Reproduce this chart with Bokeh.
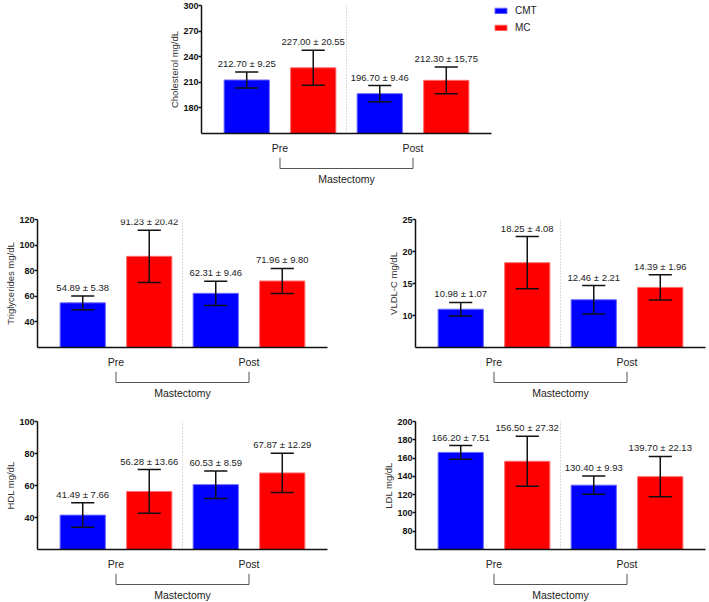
from bokeh.plotting import figure
from bokeh.models import (ColumnDataSource, FactorRange, Range1d, FixedTicker,
                          Span, Legend, LegendItem, Spacer)
from bokeh.transform import dodge
from bokeh.layouts import column, row
from bokeh.embed import file_html
from bokeh.resources import INLINE
from bokeh.core.properties import value

# ---------------- data ----------------
groups = ["Pre", "Post"]
series = ["CMT", "MC"]
group_title = "Mastectomy"

chol_cmt = [212.70, 196.70]
chol_cmt_sd = [9.25, 9.46]
chol_mc = [227.00, 212.30]
chol_mc_sd = [20.55, 15.75]
chol_cmt_text = ["212.70 ± 9.25", "196.70 ± 9.46"]
chol_mc_text = ["227.00 ± 20.55", "212.30 ± 15,75"]
chol_ticks = [180, 210, 240, 270, 300]
chol_lim = [150, 300]

trig_cmt = [54.89, 62.31]
trig_cmt_sd = [5.38, 9.46]
trig_mc = [91.23, 71.96]
trig_mc_sd = [20.42, 9.80]
trig_cmt_text = ["54.89 ± 5.38", "62.31 ± 9.46"]
trig_mc_text = ["91.23 ± 20.42", "71.96 ± 9.80"]
trig_ticks = [40, 60, 80, 100, 120]
trig_lim = [20, 120]

vldl_cmt = [10.98, 12.46]
vldl_cmt_sd = [1.07, 2.21]
vldl_mc = [18.25, 14.39]
vldl_mc_sd = [4.08, 1.96]
vldl_cmt_text = ["10.98 ± 1.07", "12.46 ± 2.21"]
vldl_mc_text = ["18.25 ± 4.08", "14.39 ± 1.96"]
vldl_ticks = [10, 15, 20, 25]
vldl_lim = [5, 25]

hdl_cmt = [41.49, 60.53]
hdl_cmt_sd = [7.66, 8.59]
hdl_mc = [56.28, 67.87]
hdl_mc_sd = [13.66, 12.29]
hdl_cmt_text = ["41.49 ± 7.66", "60.53 ± 8.59"]
hdl_mc_text = ["56.28 ± 13.66", "67.87 ± 12.29"]
hdl_ticks = [40, 60, 80, 100]
hdl_lim = [20, 100]

ldl_cmt = [166.20, 130.40]
ldl_cmt_sd = [7.51, 9.93]
ldl_mc = [156.50, 139.70]
ldl_mc_sd = [27.32, 22.13]
ldl_cmt_text = ["166.20 ± 7.51", "130.40 ± 9.93"]
ldl_mc_text = ["156.50 ± 27.32", "139.70 ± 22.13"]
ldl_ticks = [80, 100, 120, 140, 160, 180, 200]
ldl_lim = [60, 200]

# ---------------- style ----------------
FONT = "Liberation Sans"
COLORS = ["#0000FF", "#FF0000"]
EDGES = ["#6a6aff", "#ff7070"]
OFFSETS = [-0.25, 0.25]
FRAME_W = 290
FRAME_H = 128
LEFT = 37
BOTTOM = 24
BRACKET_H = 28


def make_panel(ylabel, ylim, ticks, cmt, cmt_sd, mc, mc_sd, cmt_text, mc_text,
               top_border, right_border):
    width = LEFT + FRAME_W + right_border
    x_range = FactorRange(factors=groups, range_padding=0.09,
                          range_padding_units="absolute")
    p = figure(x_range=x_range, y_range=Range1d(ylim[0], ylim[1]),
               width=width, height=top_border + FRAME_H + BOTTOM,
               output_backend="svg", toolbar_location=None,
               min_border_left=LEFT, min_border_right=right_border,
               min_border_top=top_border, min_border_bottom=BOTTOM)
    p.xgrid.visible = False
    p.ygrid.visible = False
    p.outline_line_color = None

    src = ColumnDataSource(dict(
        x=groups,
        v0=cmt, lo0=[m - s for m, s in zip(cmt, cmt_sd)],
        hi0=[m + s for m, s in zip(cmt, cmt_sd)], t0=cmt_text,
        v1=mc, lo1=[m - s for m, s in zip(mc, mc_sd)],
        hi1=[m + s for m, s in zip(mc, mc_sd)], t1=mc_text,
    ))

    p.add_layout(Span(location=1.0, dimension="height", line_color="#b8b8b8",
                      line_width=1, line_dash="1 2"))

    for i in range(2):
        off = OFFSETS[i]
        p.vbar(x=dodge("x", off, range=x_range), top="v%d" % i,
               bottom=ylim[0], width=0.34, fill_color=COLORS[i],
               line_color=EDGES[i], line_width=1, source=src)
    for i in range(2):
        off = OFFSETS[i]
        p.segment(x0=dodge("x", off, range=x_range), y0="lo%d" % i,
                  x1=dodge("x", off, range=x_range), y1="hi%d" % i,
                  line_color="#111111", line_width=1.5, source=src)
        for key in ("lo%d" % i, "hi%d" % i):
            p.segment(x0=dodge("x", off - 0.087, range=x_range), y0=key,
                      x1=dodge("x", off + 0.087, range=x_range), y1=key,
                      line_color="#111111", line_width=1.5, source=src)
        p.text(x=dodge("x", off, range=x_range), y="hi%d" % i, text="t%d" % i,
               text_align="center", text_baseline="bottom", y_offset=-3,
               text_font=value(FONT), text_font_size="9.5px",
               text_color="#222222", source=src)

    # y axis
    ya = p.yaxis[0]
    ya.ticker = FixedTicker(ticks=ticks)
    ya.axis_label = ylabel
    ya.axis_label_text_font = FONT
    ya.axis_label_text_font_style = "normal"
    ya.axis_label_text_font_size = "9.5px"
    ya.axis_label_text_color = "#333333"
    ya.axis_label_standoff = 0
    ya.major_label_text_font = FONT
    ya.major_label_text_font_style = "bold"
    ya.major_label_text_font_size = "9px"
    ya.major_label_text_color = "#111111"
    ya.major_label_standoff = 0
    ya.major_tick_out = 3
    ya.major_tick_in = 0
    ya.minor_tick_line_color = None
    ya.minor_tick_out = 0
    ya.minor_tick_in = 0
    ya.axis_line_width = 1.5
    ya.major_tick_line_width = 1.5
    ya.axis_line_color = "#111111"
    ya.major_tick_line_color = "#111111"

    # x axis
    xa = p.xaxis[0]
    xa.major_tick_line_color = None
    xa.minor_tick_line_color = None
    xa.major_tick_out = 0
    xa.major_tick_in = 0
    xa.minor_tick_out = 0
    xa.minor_tick_in = 0
    xa.axis_line_width = 1.5
    xa.axis_line_color = "#111111"
    xa.major_label_text_font = FONT
    xa.major_label_text_font_size = "10.5px"
    xa.major_label_text_color = "#222222"
    xa.major_label_standoff = 8

    # bracket + group title below the axis
    b = figure(x_range=x_range, y_range=Range1d(BRACKET_H, 0),
               width=width, height=BRACKET_H, output_backend="svg",
               toolbar_location=None, x_axis_location=None,
               y_axis_location=None, min_border_left=LEFT,
               min_border_right=right_border, min_border_top=0,
               min_border_bottom=0)
    b.xgrid.visible = False
    b.ygrid.visible = False
    b.outline_line_color = None
    b.line(x=[groups[0], groups[0], groups[-1], groups[-1]], y=[0, 11, 11, 0],
           line_color="#555555", line_width=1)
    b.text(x=[1.0], y=[21], text=[group_title], text_align="center",
           text_baseline="middle", text_font=value(FONT),
           text_font_size="10.5px", text_color="#222222")
    return column(p, b, spacing=0)


def make_legend():
    leg = figure(width=60, height=42, output_backend="svg", toolbar_location=None,
                 x_axis_location=None, y_axis_location=None,
                 x_range=Range1d(0, 1), y_range=Range1d(0, 1),
                 min_border=0)
    leg.xgrid.visible = False
    leg.ygrid.visible = False
    leg.outline_line_color = None
    # proxy glyphs lying outside the visible range, used only for the legend
    rs = [leg.vbar(x=[10], top=[10], bottom=[9], width=0.5, fill_color=COLORS[i],
                   line_color=EDGES[i], line_width=1) for i in range(2)]
    lg = Legend(items=[LegendItem(label=series[i], renderers=[rs[i]])
                       for i in range(2)],
                location="top_left", margin=1, padding=2,
                glyph_width=15, glyph_height=7, label_height=10,
                label_standoff=7, spacing=6,
                label_text_font=FONT, label_text_font_size="10px",
                label_text_color="#222222",
                border_line_color=None, background_fill_alpha=0)
    leg.add_layout(lg)
    return leg


top = make_panel("Cholesterol mg/dL", chol_lim, chol_ticks, chol_cmt, chol_cmt_sd,
                 chol_mc, chol_mc_sd, chol_cmt_text, chol_mc_text,
                 top_border=5, right_border=1)
trig = make_panel("Triglycerides mg/dL", trig_lim, trig_ticks, trig_cmt, trig_cmt_sd,
                  trig_mc, trig_mc_sd, trig_cmt_text, trig_mc_text,
                  top_border=34, right_border=51)
vldl = make_panel("VLDL-C mg/dL", vldl_lim, vldl_ticks, vldl_cmt, vldl_cmt_sd,
                  vldl_mc, vldl_mc_sd, vldl_cmt_text, vldl_mc_text,
                  top_border=34, right_border=2)
hdl = make_panel("HDL mg/dL", hdl_lim, hdl_ticks, hdl_cmt, hdl_cmt_sd,
                 hdl_mc, hdl_mc_sd, hdl_cmt_text, hdl_mc_text,
                 top_border=22, right_border=51)
ldl = make_panel("LDL mg/dL", ldl_lim, ldl_ticks, ldl_cmt, ldl_cmt_sd,
                 ldl_mc, ldl_mc_sd, ldl_cmt_text, ldl_mc_text,
                 top_border=22, right_border=2)

layout = column(
    row(Spacer(width=164, height=10), top,
        column(Spacer(width=60, height=4), make_legend(), spacing=0),
        spacing=0),
    row(trig, vldl, spacing=0),
    row(hdl, ldl, spacing=0),
    spacing=0,
)

open("out.html", "w").write(file_html(layout, INLINE))
